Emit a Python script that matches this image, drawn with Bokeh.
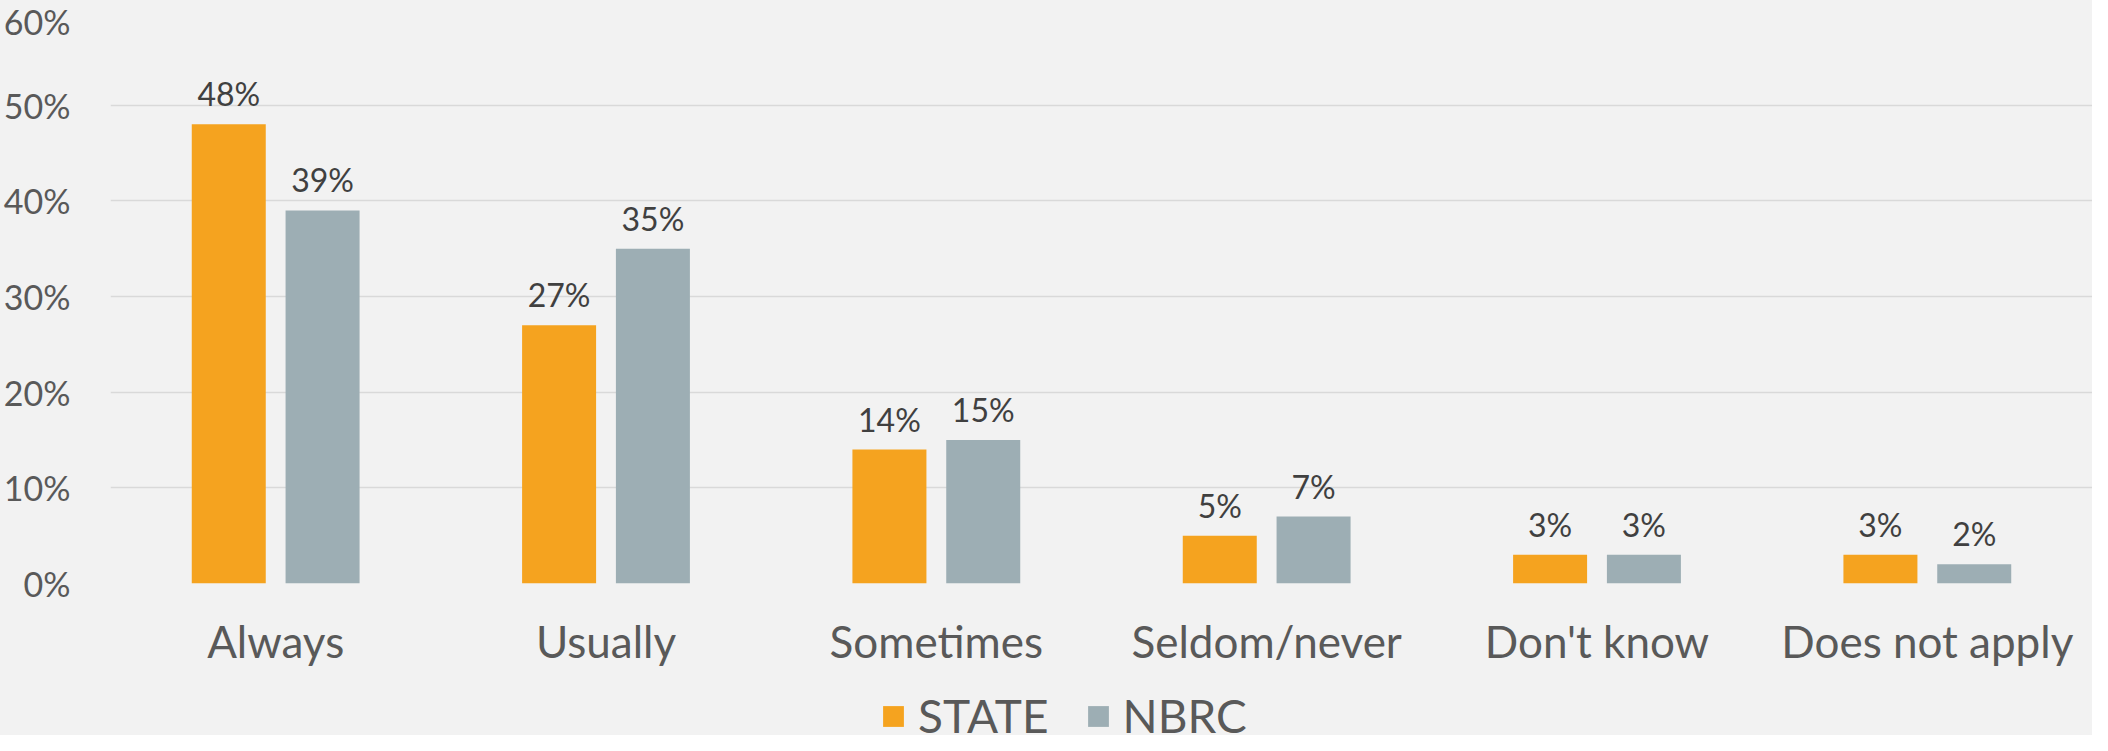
from bokeh.plotting import figure
from bokeh.layouts import column
from bokeh.models import (ColumnDataSource, FactorRange, Range1d, FixedTicker,
                          PrintfTickFormatter, LabelSet, Legend, LegendItem)
from bokeh.core.properties import value
from bokeh.transform import dodge
from bokeh.embed import file_html
from bokeh.resources import INLINE

categories = ["Always", "Usually", "Sometimes", "Seldom/never", "Don't know", "Does not apply"]
state = [48, 27, 14, 5, 3, 3]
nbrc = [39, 35, 15, 7, 3, 2]
series_names = ["STATE", "NBRC"]
y_ticks = [0, 10, 20, 30, 40, 50, 60]

ORANGE = "#F5A31F"
GRAY = "#9DAEB4"
BG = "#F2F2F2"
FONT = "Lato"

src = ColumnDataSource(dict(
    cat=categories, state=state, nbrc=nbrc,
    state_lbl=[f"{v}%" for v in state], nbrc_lbl=[f"{v}%" for v in nbrc],
))

p = figure(width=2092, height=677, x_range=FactorRange(*categories),
           y_range=Range1d(0, 60), output_backend="svg", toolbar_location=None,
           min_border_left=91, min_border_right=0, min_border_top=9, min_border_bottom=94)
p.background_fill_color = BG
p.border_fill_color = BG
p.outline_line_color = None

off = 0.142
w = 0.224
r1 = p.vbar(x=dodge("cat", -off, range=p.x_range), top="state", width=w, source=src,
            fill_color=ORANGE, line_color=None)
r2 = p.vbar(x=dodge("cat", off, range=p.x_range), top="nbrc", width=w, source=src,
            fill_color=GRAY, line_color=None)

for col, lbl, o in (("state", "state_lbl", -off), ("nbrc", "nbrc_lbl", off)):
    ls = LabelSet(x=dodge("cat", o, range=p.x_range), y=col, text=lbl, source=src,
                  text_align="center", text_baseline="alphabetic", y_offset=18,
                  text_font=value(FONT), text_font_size="32px", text_color="#404040")
    p.add_layout(ls)

p.yaxis.ticker = FixedTicker(ticks=y_ticks)
p.yaxis.formatter = PrintfTickFormatter(format="%d%%")
p.yaxis.axis_line_color = None
p.yaxis.major_tick_line_color = None
p.yaxis.minor_tick_line_color = None
p.yaxis.major_label_text_font = FONT
p.yaxis.major_label_text_font_size = "34px"
p.yaxis.major_label_text_color = "#595959"
p.yaxis.major_label_standoff = 34

p.xaxis.axis_line_color = None
p.xaxis.major_tick_line_color = None
p.xaxis.minor_tick_line_color = None
p.xaxis.major_label_text_font = FONT
p.xaxis.major_label_text_font_size = "44px"
p.xaxis.major_label_text_color = "#595959"
p.xaxis.major_label_standoff = 25

p.xgrid.grid_line_color = None
p.ygrid.grid_line_color = "#D9D9D9"
p.ygrid.grid_line_width = 1.5

# legend strip below the chart (swatch glyphs sit outside the visible range)
lf = figure(width=2092, height=58, output_backend="svg", toolbar_location=None,
            x_axis_type=None, y_axis_type=None, x_range=Range1d(0, 1), y_range=Range1d(0, 1),
            min_border=0)
lf.background_fill_color = BG
lf.border_fill_color = BG
lf.outline_line_color = None
lf.grid.grid_line_color = None
d1 = lf.vbar(x=[-5], top=[-5], width=0.1, fill_color=ORANGE, line_color=None)
d2 = lf.vbar(x=[-5], top=[-5], width=0.1, fill_color=GRAY, line_color=None)
legend = Legend(items=[LegendItem(label=series_names[0], renderers=[d1]),
                       LegendItem(label=series_names[1], renderers=[d2])],
                orientation="horizontal", location=(770, -8),
                background_fill_alpha=0, border_line_color=None,
                label_text_font=FONT, label_text_font_size="46px", label_text_color="#595959",
                glyph_width=26, glyph_height=26, label_standoff=12, spacing=36,
                margin=0, padding=0)
lf.add_layout(legend, "center")

layout = column(p, lf, spacing=0)
layout.styles = {"background-color": BG}
open("out.html", "w").write(file_html(layout, INLINE))
